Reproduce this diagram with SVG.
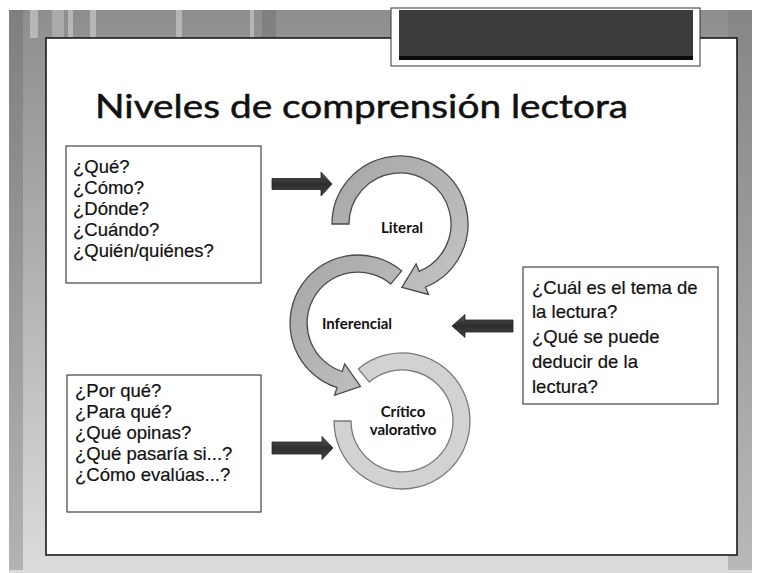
<svg xmlns="http://www.w3.org/2000/svg" width="760" height="573" viewBox="0 0 760 573">
<defs>
<linearGradient id="bg" x1="0" y1="0" x2="0" y2="1">
<stop offset="0" stop-color="#8e8e8e"/>
<stop offset="0.5" stop-color="#b4b4b4"/>
<stop offset="1" stop-color="#dcdcdc"/>
</linearGradient>
<linearGradient id="arw" x1="0" y1="0" x2="0" y2="1">
<stop offset="0" stop-color="#555"/>
<stop offset="0.5" stop-color="#2e2e2e"/>
<stop offset="1" stop-color="#444"/>
</linearGradient>
<linearGradient id="ring" x1="0" y1="0" x2="1" y2="1">
<stop offset="0" stop-color="#a6a6a6"/>
<stop offset="1" stop-color="#c4c4c4"/>
</linearGradient>
<style>
.q{font-family:"Liberation Sans",Arial,sans-serif;font-size:18.5px;fill:#111;stroke:#111;stroke-width:0.2}
.lbl{font-family:Lato,"Liberation Sans",sans-serif;font-size:15px;font-weight:bold;fill:#111;text-anchor:middle}
.box{fill:#fff;stroke:#444;stroke-width:1.2}
.arrow{fill:url(#arw);stroke:#222;stroke-width:0.8}
.ring{fill:url(#ring);stroke:#4a4a4a;stroke-width:1.3}
.ring2{fill:#d2d2d2;stroke:#7a7a7a;stroke-width:1.3}
</style>
</defs>
<rect x="0" y="0" width="760" height="573" fill="#fff"/>
<rect x="9" y="10" width="743" height="563" fill="url(#bg)"/>
<g opacity="0.35">
<rect x="30" y="10" width="8" height="28" fill="#fff"/>
<rect x="52" y="10" width="12" height="28" fill="#ddd"/>
<rect x="68" y="10" width="5" height="28" fill="#fff"/>
<rect x="90" y="10" width="6" height="28" fill="#fff"/>
<rect x="176" y="10" width="6" height="28" fill="#fff"/>
<rect x="250" y="10" width="4" height="28" fill="#fff"/>
<rect x="262" y="10" width="14" height="28" fill="#666"/>
<rect x="728" y="10" width="24" height="560" fill="#777"/>
<rect x="9" y="10" width="14" height="560" fill="#666"/>
</g>
<rect x="46" y="38" width="691" height="517" fill="#fff" stroke="#1a1a1a" stroke-width="1.6"/>
<g id="header">
<rect x="391" y="8" width="309" height="58" fill="#fff" stroke="#333" stroke-width="1"/>
<rect x="399" y="10" width="294" height="49" fill="#3c3c3c"/>
<rect x="399" y="56" width="294" height="4" fill="#0a0a0a"/>
</g>
<text x="95" y="118" font-family="Lato,'Liberation Sans',sans-serif" font-size="33" fill="#111" stroke="#111" stroke-width="0.5" textLength="533" lengthAdjust="spacingAndGlyphs">Niveles de comprensión lectora</text>
<g id="box-literal">
<rect class="box" x="66" y="146" width="195" height="137"/>
<text class="q" x="73" y="173">¿Qué?</text>
<text class="q" x="73" y="194">¿Cómo?</text>
<text class="q" x="73" y="215">¿Dónde?</text>
<text class="q" x="73" y="236">¿Cuándo?</text>
<text class="q" x="73" y="257">¿Quién/quiénes?</text>
</g>
<g id="box-inferencial">
<rect class="box" x="523" y="267" width="195" height="137"/>
<text class="q" x="532" y="294">¿Cuál es el tema de</text>
<text class="q" x="532" y="318">la lectura?</text>
<text class="q" x="532" y="343">¿Qué se puede</text>
<text class="q" x="532" y="368">deducir de la</text>
<text class="q" x="532" y="393">lectura?</text>
</g>
<g id="box-critico">
<rect class="box" x="67" y="375" width="194" height="137"/>
<text class="q" x="75" y="397">¿Por qué?</text>
<text class="q" x="75" y="418">¿Para qué?</text>
<text class="q" x="75" y="439">¿Qué opinas?</text>
<text class="q" x="75" y="460">¿Qué pasaría si...?</text>
<text class="q" x="75" y="481">¿Cómo evalúas...?</text>
</g>
<g id="literal">
<path class="ring" d="M332,224 A68,68 0 1,1 425.5,287.0 L428.5,294.5 L401.9,287.4 L416.1,263.9 L419.1,271.3 A51,51 0 1,0 349,224 Z"/>
<text class="lbl" x="402" y="233">Literal</text>
</g>
<g id="critico">
<path class="ring2" d="M358.3,368.9 A68,68 0 1,1 334,421 L351,421 A51,51 0 1,0 369.2,381.9 Z"/>
<text class="lbl" x="403" y="417">Crítico</text>
<text class="lbl" x="403" y="435">valorativo</text>
</g>
<g id="inferencial">
<path class="ring" d="M401.7,270.9 A68,68 0 1,0 337.0,387.7 L334.5,395.3 L360.5,386.4 L344.7,363.9 L342.2,371.5 A51,51 0 1,1 390.8,283.9 Z"/>
<text class="lbl" x="357" y="329">Inferencial</text>
</g>
<g id="connectors">
<polygon class="arrow" points="272,178.5 321,178.5 321,172 332,184 321,196 321,189.5 272,189.5"/>
<polygon class="arrow" points="513,320 465,320 465,314.5 452,326 465,337.5 465,332 513,332"/>
<polygon class="arrow" points="272,442 322,442 322,436.5 333,448 322,459.5 322,454 272,454"/>
</g>
</svg>
